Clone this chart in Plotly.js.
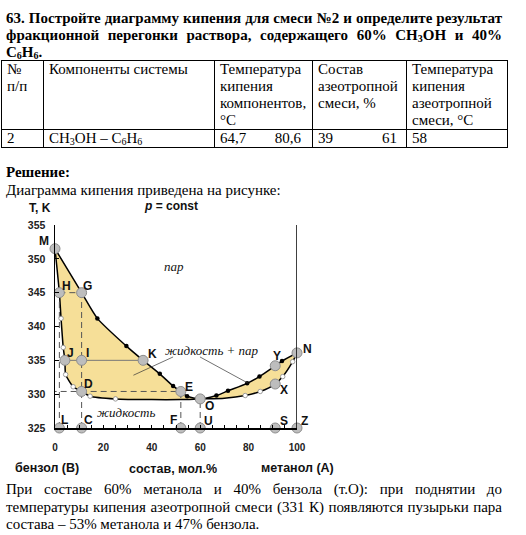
<!DOCTYPE html>
<html><head><meta charset="utf-8">
<script src="https://cdn.plot.ly/plotly-3.0.1.min.js"></script>
<style>
body{margin:0;width:526px;height:535px;position:relative;background:#fff;font-family:"Liberation Serif","Times New Roman",serif;font-size:15px;color:#000;overflow:hidden}
.abs{position:absolute}
.ln{height:17px;line-height:17px;text-align:justify;text-align-last:justify}
.ln2{height:17.5px;line-height:17.5px;text-align:justify;text-align-last:justify}
sub{font-size:10px;vertical-align:-2px;line-height:0}
table{border-collapse:collapse;table-layout:fixed}
td{border:1px solid #000;padding:0 5px;vertical-align:top;line-height:17px;font-size:15px}
#chart{position:absolute;left:0;top:190px;width:340px;height:290px}
</style></head>
<body>
<div class="abs" style="left:6px;top:10px;width:496px;font-weight:bold">
  <div class="ln">63. Постройте диаграмму кипения для смеси №2 и определите результат</div>
  <div class="ln">фракционной перегонки раствора, содержащего 60% CH<sub>3</sub>OH и 40%</div>
  <div style="height:17px;line-height:17px">C<sub>6</sub>H<sub>6</sub>.</div>
</div>
<table class="abs" style="left:1px;top:60px;width:507px">
  <colgroup><col style="width:42px"><col style="width:171px"><col style="width:98px"><col style="width:94px"><col style="width:101px"></colgroup>
  <tr style="height:69px">
    <td>№<br>п/п</td>
    <td>Компоненты системы</td>
    <td>Температура кипения компонентов, °C</td>
    <td>Состав азеотропной смеси, %</td>
    <td>Температура кипения азеотропной смеси, °C</td>
  </tr>
  <tr style="height:17px">
    <td>2</td>
    <td>CH<sub>3</sub>OH – C<sub>6</sub>H<sub>6</sub></td>
    <td><div style="display:flex;justify-content:space-between;padding-right:6px"><span>64,7</span><span>80,6</span></div></td>
    <td><div style="display:flex;justify-content:space-between;padding-right:4px"><span>39</span><span>61</span></div></td>
    <td>58</td>
  </tr>
</table>
<div class="abs" style="left:6px;top:164px;font-weight:bold;line-height:17px">Решение:</div>
<div class="abs" style="left:6px;top:182px;line-height:17px">Диаграмма кипения приведена на рисунке:</div>
<div id="chart"></div>
<div class="abs" style="left:6px;top:481px;width:496px">
  <div class="ln2">При составе 60% метанола и 40% бензола (т.О): при поднятии до</div>
  <div class="ln2">температуры кипения азеотропной смеси (331 К) появляются пузырьки пара</div>
  <div style="height:17.5px;line-height:17.5px">состава – 53% метанола и 47% бензола.</div>
</div>
<script>
// vapour (dew) curve
const vaporX = [0, 11, 17.5, 29.5, 36.4, 43.3, 48.8, 52, 54.6, 60, 66.7, 71.5, 79.4, 84.5, 91, 93.8, 100];
const vaporT = [351.5, 345, 341.2, 337.1, 335, 333.0, 331.2, 330.4, 329.7, 329.3, 329.8, 330.5, 331.6, 332.6, 334.2, 334.9, 336.1];
// liquid (bubble) curve
const liquidX = [0, 1.8, 2.5, 3.4, 4.1, 4.4, 7.5, 11, 14.5, 25, 40, 52, 60, 70, 78.6, 84.8, 91, 94.1, 98.2, 100];
const liquidT = [351.5, 345, 341.2, 336.9, 335, 332.9, 331.1, 330.4, 329.7, 329.3, 329.2, 329.2, 329.3, 329.4, 329.8, 330.4, 331.5, 332.6, 334.8, 336.1];
// small black dots on the vapour curve
const blackDotX = [17.5, 29.5, 43.3, 48.8, 54.6, 66.7, 71.5, 79.4, 84.5, 93.8];
const blackDotT = [341.2, 337.1, 333.0, 331.2, 329.7, 329.8, 330.5, 331.6, 332.6, 334.9];
// small white dots on the liquid curve
const whiteDotX = [2.5, 3.4, 4.4, 7.5, 14.5, 25, 78.6, 84.8, 94.1, 98.2];
const whiteDotT = [341.2, 336.9, 332.9, 331.1, 329.7, 329.3, 329.8, 330.4, 332.6, 334.8];
// labelled points
const pointNames = ['M','H','G','J','I','K','D','E','O','Y','X','N','L','C','F','U','S','Z'];
const pointX = [0, 1.8, 11, 4.1, 11, 36.4, 11, 52, 60, 91, 91, 100, 1.8, 11, 52, 60, 91, 100];
const pointT = [351.5, 345, 345, 335, 335, 335, 330.4, 330.4, 329.3, 334.2, 331.5, 336.1, 325, 325, 325, 325, 325, 325];
// tick labels
const yTicks = [325, 330, 335, 340, 345, 350, 355];
const xTicks = [0, 20, 40, 60, 80, 100];

// label offsets in pixels (dx right, dy down)
const labelOff = {M:[-11,-8],H:[7,-7],G:[6,-7],J:[6,-7],I:[6,-7],K:[9,-6],D:[7,-7],E:[8,-4],O:[9,7],Y:[2,-10],X:[9,6],N:[10,-4],L:[5,-8],C:[7,-8],F:[-7,-8],U:[8,-7],S:[9,-7],Z:[7,-7]};

function P(n){const i=pointNames.indexOf(n);return [pointX[i],pointT[i]];}
function seg(a,b,style){const p=P(a),q=P(b);return {x:[p[0],q[0]],y:[p[1],q[1]],mode:'lines',line:style,hoverinfo:'skip',cliponaxis:false,showlegend:false};}

const dashStyle={color:'#555',width:1,dash:'6px,4px'};
const traces=[];
traces.push({x:liquidX,y:liquidT,mode:'lines',line:{color:'#000',width:1.5,shape:'spline',smoothing:0.6},showlegend:false,hoverinfo:'skip'});
traces.push({x:vaporX,y:vaporT,mode:'lines',fill:'tonext',fillcolor:'#f6df98',line:{color:'#000',width:1.5,shape:'spline',smoothing:0.6},showlegend:false,hoverinfo:'skip'});
traces.push(seg('H','G',dashStyle));
traces.push(seg('L','H',dashStyle));
traces.push(seg('C','G',dashStyle));
traces.push(seg('F','E',dashStyle));
traces.push(seg('U','O',dashStyle));
traces.push(seg('J','K',{color:'#777',width:1}));
const e=P('E');
traces.push({x:[-1.8,e[0]],y:[e[1],e[1]],mode:'lines',line:dashStyle,cliponaxis:false,showlegend:false,hoverinfo:'skip'});
traces.push({x:blackDotX,y:blackDotT,mode:'markers',marker:{size:4.5,color:'#000'},showlegend:false,hoverinfo:'skip'});
traces.push({x:whiteDotX,y:whiteDotT,mode:'markers',marker:{size:4.5,color:'#fff',line:{color:'#888',width:0.8}},showlegend:false,hoverinfo:'skip'});
traces.push({x:pointX,y:pointT,mode:'markers',marker:{size:10,color:'#bdbdbd',line:{color:'#8c8c8c',width:1}},cliponaxis:false,showlegend:false,hoverinfo:'skip'});

const sans='"Liberation Sans", Arial, sans-serif';
const serif='"Liberation Serif", "Times New Roman", serif';
const ann=[];
function A(o){ann.push(Object.assign({showarrow:false,xanchor:'center',yanchor:'middle'},o));}
pointNames.forEach((n,i)=>{const o=labelOff[n];A({x:pointX[i],y:pointT[i],xref:'x',yref:'y',text:'<b>'+n+'</b>',xshift:o[0],yshift:-o[1],font:{family:sans,size:12,color:'#111'}});});
A({x:49.2,y:348.8,text:'<i>пар</i>',font:{family:serif,size:13,color:'#111'}});
A({x:65,y:336.5,text:'<i>жидкость + пар</i>',font:{family:serif,size:13,color:'#111'}});
A({x:29.3,y:327.3,text:'<i>жидкость</i>',font:{family:serif,size:13,color:'#111'}});
A({x:-0.062,y:1.084,xref:'paper',yref:'paper',text:'<b>T, K</b>',font:{family:sans,size:12,color:'#111'}});
A({x:0.479,y:1.094,xref:'paper',yref:'paper',text:'<b><i>p</i> = const</b>',font:{family:sans,size:12,color:'#111'}});
A({x:-0.033,y:-0.197,xref:'paper',yref:'paper',text:'<b>бензол (B)</b>',font:{family:sans,size:12.5,color:'#111'}});
A({x:0.488,y:-0.202,xref:'paper',yref:'paper',text:'<b>состав, мол.%</b>',font:{family:sans,size:12.5,color:'#111'}});
A({x:1.004,y:-0.197,xref:'paper',yref:'paper',text:'<b>метанол (A)</b>',font:{family:sans,size:12.5,color:'#111'}});

const shapes=[
  {type:'line',xref:'x',yref:'y',x0:100,x1:100,y0:325,y1:355.3,line:{color:'#000',width:1.5}},
  {type:'line',xref:'x',yref:'y',x0:48.8,y0:335.5,x1:32.4,y1:332.8,line:{color:'#333',width:0.7}},
  {type:'line',xref:'x',yref:'y',x0:59.9,y0:335.5,x1:79.9,y1:331.6,line:{color:'#333',width:0.7}}
];

const layout={
  width:340,height:290,margin:{l:55,r:43,t:35,b:52},
  paper_bgcolor:'rgba(0,0,0,0)',plot_bgcolor:'rgba(0,0,0,0)',
  showlegend:false,
  xaxis:{range:[0,100],tickvals:xTicks,ticktext:xTicks.map(String),showgrid:false,zeroline:false,showline:true,linecolor:'#000',linewidth:1.5,
    ticks:'inside',ticklen:3,tickcolor:'#000',minor:{dtick:5,ticks:'inside',ticklen:3,tickcolor:'#000'},
    tickfont:{family:sans,size:10,color:'#222',weight:'bold'},ticklabelstandoff:9},
  yaxis:{range:[325,355],tickvals:yTicks,ticktext:yTicks.map(String),showgrid:false,zeroline:false,showline:true,linecolor:'#000',linewidth:1.5,
    ticks:'inside',ticklen:4,tickcolor:'#000',
    tickfont:{family:sans,size:10.5,color:'#222',weight:'bold'},ticklabelstandoff:6},
  annotations:ann,shapes:shapes
};
Plotly.newPlot('chart',traces,layout,{staticPlot:true,displayModeBar:false});
</script>
</body></html>
